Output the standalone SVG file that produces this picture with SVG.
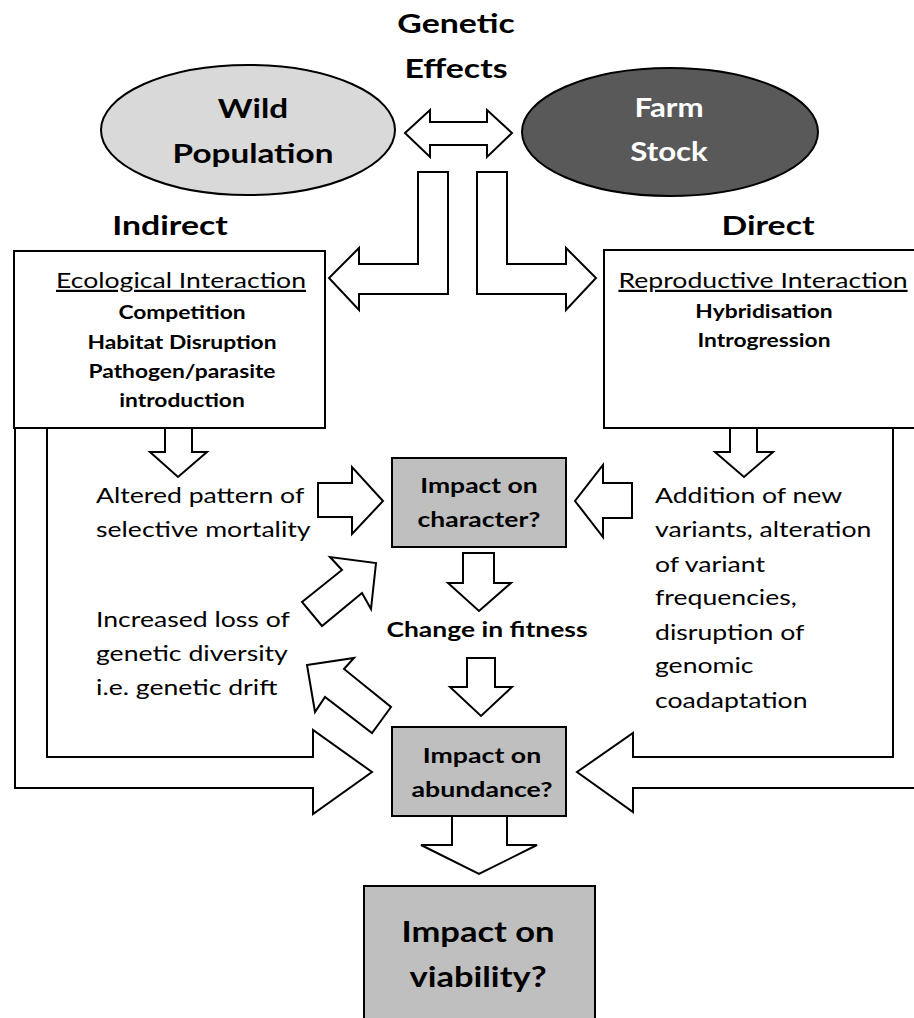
<svg xmlns="http://www.w3.org/2000/svg" width="914" height="1018" viewBox="0 0 914 1018">
<style>
text{font-family:Lato,"Liberation Sans",sans-serif;fill:#000;text-anchor:middle}
.b{font-weight:bold}
.n{font-size:22px}
.l{text-anchor:start}
.t{font-size:26px;font-weight:bold}
.s{font-size:19px;font-weight:bold}
.m{font-size:21px;font-weight:bold}
.fa{fill:#fff;stroke:#000;stroke-width:2;stroke-linejoin:miter}
.box{fill:#fff;stroke:#000;stroke-width:2}
.gbox{fill:#bfbfbf;stroke:#000;stroke-width:2}
</style>
<rect width="914" height="1018" fill="#fff"/>
<g id="title" transform="translate(456,0) scale(1.3,1)">
<text class="t" x="0" y="33">Genetic</text>
<text class="t" x="0" y="78">Effects</text>
</g>
<g id="wild">
<ellipse cx="248" cy="130" rx="147" ry="65" fill="#d9d9d9" stroke="#000" stroke-width="2"/>
<g transform="translate(253,0) scale(1.28,1)">
<text class="t" x="0" y="118" font-size="27">Wild</text>
<text class="t" x="0" y="163" font-size="27">Population</text>
</g>
</g>
<g id="farm">
<ellipse cx="670" cy="132" rx="148" ry="64" fill="#595959" stroke="#000" stroke-width="2"/>
<g transform="translate(669,0) scale(1.2,1)">
<text class="t" x="0" y="117" font-size="27" style="fill:#fff">Farm</text>
<text class="t" x="0" y="161" font-size="27" style="fill:#fff">Stock</text>
</g>
</g>
<g id="labels">
<text class="t" transform="translate(170,235) scale(1.3,1)" x="0" y="0">Indirect</text>
<text class="t" transform="translate(768,235) scale(1.3,1)" x="0" y="0">Direct</text>
</g>
<g id="connectors">
<polygon class="fa" points="405,133 430,110 430,122 487,122 487,110 512,133 487,157 487,145 430,145 430,157"/>
<polygon class="fa" points="448,172 448,294 359,294 359,310 329,278 359,248 359,264 418,264 418,172"/>
<polygon class="fa" points="477,172 507,172 507,264 566,264 566,248 596,278 566,310 566,294 477,294"/>
<polygon class="fa" points="15,428 15,788 313,788 313,814 372,772 313,730 313,757 47,757 47,428"/>
<polygon class="fa" points="893,428 893,757 633,757 633,733 577,772 633,812 633,788 925,788 925,428"/>
<polygon class="fa" points="165,428 165,452 150,452 178,477 207,452 192,452 192,428"/>
<polygon class="fa" points="730,428 730,452 715,452 744,477 773,452 757,452 757,428"/>
<polygon class="fa" points="318,483 352,483 352,467 383,501 352,534 352,517 318,517"/>
<polygon class="fa" points="632,483 603,483 603,465 575,501 603,537 603,518 632,518"/>
<polygon class="fa" points="463,553 494,553 494,583 511,583 479,611 448,583 463,583"/>
<polygon class="fa" points="467,658 495,658 495,687 512,687 481,716 450,687 467,687"/>
<polygon class="fa" points="452,816 507,816 507,845 537,845 479,874 421,845 452,845"/>
<polygon class="fa" points="302,602 342,570 330,557 376,563 371,609 362,593 322,626"/>
<polygon class="fa" points="307,665 354,658 344,669 391,707 372,733 325,697 315,712"/>
</g>
<g id="ecological">
<rect class="box" x="14" y="251" width="311" height="177"/>
<text class="n" transform="translate(181,0) scale(1.21,1)" x="0" y="288" text-decoration="underline">Ecological Interaction</text>
<g transform="translate(182,0) scale(1.2,1)">
<text class="s" x="0" y="319">Competition</text>
<text class="s" x="0" y="349">Habitat Disruption</text>
<text class="s" x="0" y="378">Pathogen/parasite</text>
<text class="s" x="0" y="407">introduction</text>
</g>
</g>
<g id="reproductive">
<rect class="box" x="604" y="250" width="320" height="178"/>
<text class="n" transform="translate(763,0) scale(1.21,1)" x="0" y="288" text-decoration="underline">Reproductive Interaction</text>
<g transform="translate(764,0) scale(1.2,1)">
<text class="s" x="0" y="318">Hybridisation</text>
<text class="s" x="0" y="347">Introgression</text>
</g>
</g>
<g id="selective" transform="translate(96,0) scale(1.21,1)">
<text class="n l" x="0" y="503">Altered pattern of</text>
<text class="n l" x="0" y="537">selective mortality</text>
</g>
<g id="drift" transform="translate(96,0) scale(1.21,1)">
<text class="n l" x="0" y="627">Increased loss of</text>
<text class="n l" x="0" y="661">genetic diversity</text>
<text class="n l" x="0" y="695">i.e. genetic drift</text>
</g>
<g id="variants" transform="translate(655,0) scale(1.21,1)">
<text class="n l" x="0" y="503">Addition of new</text>
<text class="n l" x="0" y="537">variants, alteration</text>
<text class="n l" x="0" y="572">of variant</text>
<text class="n l" x="0" y="605">frequencies,</text>
<text class="n l" x="0" y="640">disruption of</text>
<text class="n l" x="0" y="673">genomic</text>
<text class="n l" x="0" y="708">coadaptation</text>
</g>
<g id="character">
<rect class="gbox" x="392" y="458" width="174" height="89"/>
<g transform="translate(479,0) scale(1.26,1)">
<text class="m" x="0" y="493">Impact on</text>
<text class="m" x="0" y="527">character?</text>
</g>
</g>
<g id="fitness">
<text class="m" transform="translate(487,637) scale(1.26,1)" x="0" y="0">Change in fitness</text>
</g>
<g id="abundance">
<rect class="gbox" x="392" y="727" width="174" height="89"/>
<g transform="translate(482,0) scale(1.27,1)">
<text class="m" x="0" y="763">Impact on</text>
<text class="m" x="0" y="797">abundance?</text>
</g>
</g>
<g id="viability">
<rect class="gbox" x="364" y="886" width="231" height="150"/>
<g transform="translate(478,0) scale(1.19,1)">
<text class="b" x="0" y="942" font-size="29">Impact on</text>
<text class="b" x="0" y="987" font-size="29">viability?</text>
</g>
</g>
</svg>
